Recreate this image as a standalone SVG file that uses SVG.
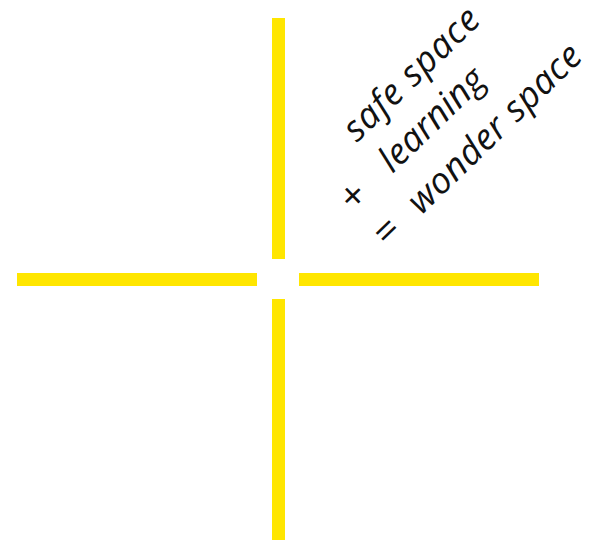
<svg xmlns="http://www.w3.org/2000/svg" width="589" height="541" viewBox="0 0 589 541">
<style>
.bar{fill:#FFE600}
.t{font-family:"Open Sans","DejaVu Sans",sans-serif;font-style:italic;font-size:36px;fill:#111}
.op{font-size:40px}
</style>
<rect width="589" height="541" fill="#fff"/>
<g id="cross">
<rect class="bar" x="272" y="18" width="13" height="241"/>
<rect class="bar" x="272" y="299" width="13" height="241"/>
<rect class="bar" x="17" y="273" width="240" height="13"/>
<rect class="bar" x="299" y="273" width="240" height="13"/>
</g>
<g id="label" transform="translate(357,143) rotate(-44)">
<text class="t" x="0" y="0" textLength="174" lengthAdjust="spacing">safe space</text>
<text class="t op" x="-52" y="49">+</text>
<text class="t" x="4" y="47" textLength="132" lengthAdjust="spacing">learning</text>
<text class="t op" x="-52" y="97">=</text>
<text class="t" x="-4" y="97" textLength="226" lengthAdjust="spacing">wonder space</text>
</g>
</svg>
